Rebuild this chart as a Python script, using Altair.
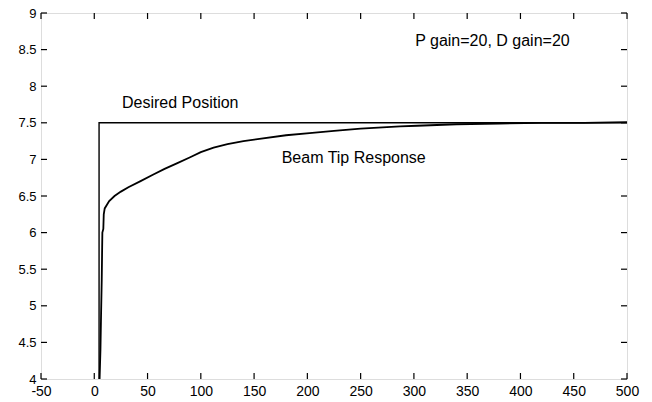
import altair as alt
import pandas as pd

# Desired position (step)
desired_x = [4.5, 4.5, 500]
desired_y = [4.0, 7.5, 7.5]

# Beam tip response
resp_x = [5.0, 5.8, 6.4, 7.0, 7.4, 7.6, 8.5, 8.9, 9.8, 14, 19, 25, 32, 43, 55, 66, 78,
          90, 100, 112, 125, 140, 155, 180, 202, 225, 250, 287, 303, 340, 380, 420, 460, 500]
resp_y = [4.0, 4.4, 4.9, 5.35, 5.8, 6.0, 6.05, 6.25, 6.33, 6.43, 6.50, 6.56, 6.62, 6.70,
          6.79, 6.87, 6.95, 7.03, 7.10, 7.16, 7.21, 7.25, 7.28, 7.33, 7.36, 7.39, 7.42,
          7.45, 7.46, 7.48, 7.49, 7.50, 7.50, 7.51]

x_ticks = [-50, 0, 50, 100, 150, 200, 250, 300, 350, 400, 450, 500]
y_ticks = [4, 4.5, 5, 5.5, 6, 6.5, 7, 7.5, 8, 8.5, 9]

labels_text = ["Desired Position", "Beam Tip Response", "P gain=20, D gain=20"]
labels_x = [80.7, 243.5, 373.7]
labels_y = [7.77, 7.02, 8.62]

W, H = 586, 366
FONT = "Liberation Sans"

desired = pd.DataFrame({"x": desired_x, "y": desired_y, "o": range(len(desired_x))})
resp = pd.DataFrame({"x": resp_x, "y": resp_y, "o": range(len(resp_x))})
xt = pd.DataFrame({"v": x_ticks})
yt = pd.DataFrame({"v": y_ticks})
lab = pd.DataFrame({"t": labels_text, "x": labels_x, "y": labels_y})

xs = alt.Scale(domain=[-50, 500], nice=False, zero=False)
ys = alt.Scale(domain=[4, 9], nice=False, zero=False)

xaxis = alt.Axis(values=x_ticks, ticks=False, domain=False, grid=False, labelFont=FONT,
                 labelFontSize=14, labelColor="black", labelPadding=5, labelFlush=False,
                 labelOverlap=False, labelBound=False, title=None,
                 labelExpr="datum.value + ''")
yaxis = alt.Axis(values=y_ticks, ticks=False, domain=False, grid=False, labelFont=FONT,
                 labelFontSize=13, labelColor="black", labelPadding=5, labelFlush=False,
                 labelOverlap=False, labelBound=False, title=None,
                 labelExpr="datum.value + ''")

X = lambda f: alt.X(f, scale=xs, axis=xaxis)
Y = lambda f: alt.Y(f, scale=ys, axis=yaxis)

base_des = alt.Chart(desired).mark_line(color="black", strokeWidth=1.4, clip=True).encode(
    x=X("x:Q"), y=Y("y:Q"), order="o:Q")
resp_line = alt.Chart(resp).mark_line(color="black", strokeWidth=1.8, clip=True).encode(
    x=X("x:Q"), y=Y("y:Q"), order="o:Q")

tb = alt.Chart(xt).mark_rule(color="black", strokeWidth=1.2).encode(
    x=X("v:Q"), y=alt.value(H), y2=alt.value(H - 6))
tt = alt.Chart(xt).mark_rule(color="black", strokeWidth=1.2).encode(
    x=X("v:Q"), y=alt.value(0), y2=alt.value(6))
tl = alt.Chart(yt).mark_rule(color="black", strokeWidth=1.2).encode(
    y=Y("v:Q"), x=alt.value(0), x2=alt.value(6))
tr = alt.Chart(yt).mark_rule(color="black", strokeWidth=1.2).encode(
    y=Y("v:Q"), x=alt.value(W), x2=alt.value(W - 6))

texts = alt.Chart(lab).mark_text(font=FONT, fontSize=16, color="black", align="center",
                                 baseline="middle").encode(
    x=X("x:Q"), y=Y("y:Q"), text="t:N")

chart = alt.layer(base_des, resp_line, tb, tt, tl, tr, texts).properties(
    width=W, height=H,
    autosize=alt.AutoSizeParams(type="none"),
    padding={"left": 33, "top": 5, "right": 17, "bottom": 19},
).configure_view(stroke="black", strokeWidth=1.5).configure(background="white")

chart.save("out.html", embed_options={"renderer": "svg", "actions": False})
